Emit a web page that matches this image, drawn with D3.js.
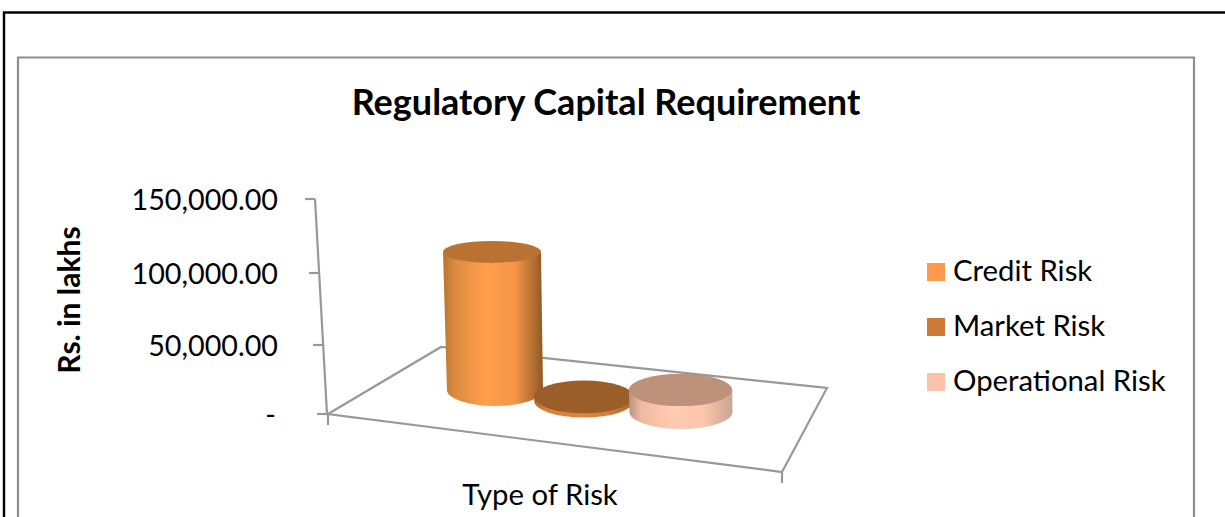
<!DOCTYPE html>
<html>
<head>
<meta charset="utf-8">
<script src="https://cdn.jsdelivr.net/npm/d3@7"></script>
<style>
	html, body { margin: 0; padding: 0; background: #fff; }
	svg { display: block; }
	text { font-family: Lato, "Open Sans", sans-serif; fill: #000; }
</style>
</head>
<body>
<div id="chart"></div>
<script>
const WIDTH = 1225
const HEIGHT = 517

// values
const categories = ['Credit Risk', 'Market Risk', 'Operational Risk']
const values = [98000, 3000, 16000]
const tickValues = [0, 50000, 100000, 150000]

const svg = d3.select('#chart')
	.append('svg')
	.attr('width', WIDTH)
	.attr('height', HEIGHT)

const defs = svg.append('defs')

// the wall axis leans and is foreshortened, so both scales are piecewise
const y = d3.scaleLinear().domain(tickValues).range([414, 345, 273, 199])
const axisX = d3.scaleLinear().domain([0, 150000]).range([327, 315])

// where each cylinder stands on the floor
const baseX = d3.scaleOrdinal().domain(categories).range([495, 584, 681])
const baseY = d3.scalePoint().domain(categories).range([390, 412])
const radiusX = d3.scalePoint().domain(categories).range([48, 51.5])
const radiusY = d3.scalePoint().domain(categories).range([16, 17])

const sideColors = d3.scaleOrdinal().domain(categories).range([
	['#b8752f', '#dc8a40', '#ff9e4a', '#f59647', '#8f5a24'],
	['#b06c2e', '#d5813a', '#dc853c', '#d5813a', '#a86a30'],
	['#b89482', '#f0baa0', '#ffcbb1', '#fcc6ab', '#c9a692'],
])
const topColor = d3.scaleOrdinal().domain(categories).range(['#b97231', '#9c5e28', '#bd917a'])
const legendColor = d3.scaleOrdinal().domain(categories).range(['#fc9a4b', '#cc7a38', '#fbc2aa'])

// outer frames
svg.append('path')
	.attr('d', 'M4,517V12.5H1225')
	.attr('fill', 'none')
	.attr('stroke', '#000')
	.attr('stroke-width', 2.4)

svg.append('path')
	.attr('d', 'M18,517V57.5H1194V517')
	.attr('fill', 'none')
	.attr('stroke', '#8e8e8e')
	.attr('stroke-width', 2.2)

svg.append('text')
	.attr('x', 606)
	.attr('y', 115)
	.attr('text-anchor', 'middle')
	.attr('font-size', 36)
	.attr('font-weight', 700)
	.text('Regulatory Capital Requirement')

svg.append('text')
	.attr('transform', 'translate(80,300) rotate(-90)')
	.attr('text-anchor', 'middle')
	.attr('font-size', 30)
	.attr('font-weight', 700)
	.text('Rs. in lakhs')

svg.append('text')
	.attr('x', 540)
	.attr('y', 505)
	.attr('text-anchor', 'middle')
	.attr('font-size', 29.3)
	.text('Type of Risk')

// floor and wall lines
const lineColor = '#989898'
const lines = svg.append('g')
	.attr('fill', 'none')
	.attr('stroke', lineColor)
	.attr('stroke-width', 2.2)

lines.append('path').attr('d', 'M328,414L441,347L827,388L782,472Z')
lines.append('path').attr('d', 'M328,414V425M782,472V483')
lines.append('path').attr('d', `M${axisX(0)},${y(0)}L${axisX(150000)},${y(150000)}`)

const ticks = svg.append('g')
	.selectAll('g')
	.data(tickValues)
	.join('g')

ticks.append('line')
	.attr('x1', d => axisX(d) - 10)
	.attr('x2', d => axisX(d))
	.attr('y1', d => y(d))
	.attr('y2', d => y(d))
	.attr('stroke', lineColor)
	.attr('stroke-width', 2.2)

ticks.append('text')
	.attr('x', d => d === 0 ? 276 : 278)
	.attr('y', d => y(d) + 11)
	.attr('text-anchor', 'end')
	.attr('font-size', 28.7)
	.text(d => d === 0 ? '-' : d3.format(',.2f')(d))

// cylinders
categories.forEach((c, i) => {
	const gradient = defs.append('linearGradient')
		.attr('id', `side-${i}`)
	const stops = sideColors(c)
	stops.forEach((color, j) => {
		gradient.append('stop')
			.attr('offset', [0, 0.12, 0.42, 0.72, 1][j])
			.attr('stop-color', color)
	})

	const h = y(0) - y(values[i])
	const cx = baseX(c)
	const cy = baseY(c)
	const rx = radiusX(c)
	const ry = radiusY(c)
	// the top of a tall cylinder is seen flatter and sits a little left
	const topX = cx - h * 3 / 138
	const topY = cy - h
	const topRx = rx + h / 138
	const topRy = ry - h * 5 / 138

	const g = svg.append('g')
	g.append('path')
		.attr('d', `M${topX - topRx},${topY}L${cx - rx},${cy}A${rx},${ry} 0 0 0 ${cx + rx},${cy}L${topX + topRx},${topY}Z`)
		.attr('fill', `url(#side-${i})`)
	g.append('ellipse')
		.attr('cx', topX)
		.attr('cy', topY)
		.attr('rx', topRx)
		.attr('ry', topRy)
		.attr('fill', topColor(c))
})

// legend
const legend = svg.append('g')
	.selectAll('g')
	.data(categories)
	.join('g')
	.attr('transform', (d, i) => `translate(927,${263 + i * 55})`)

legend.append('rect')
	.attr('width', 18)
	.attr('height', 18)
	.attr('fill', d => legendColor(d))

legend.append('text')
	.attr('x', 26)
	.attr('y', 18)
	.attr('font-size', 29.3)
	.text(d => d)
</script>
</body>
</html>
